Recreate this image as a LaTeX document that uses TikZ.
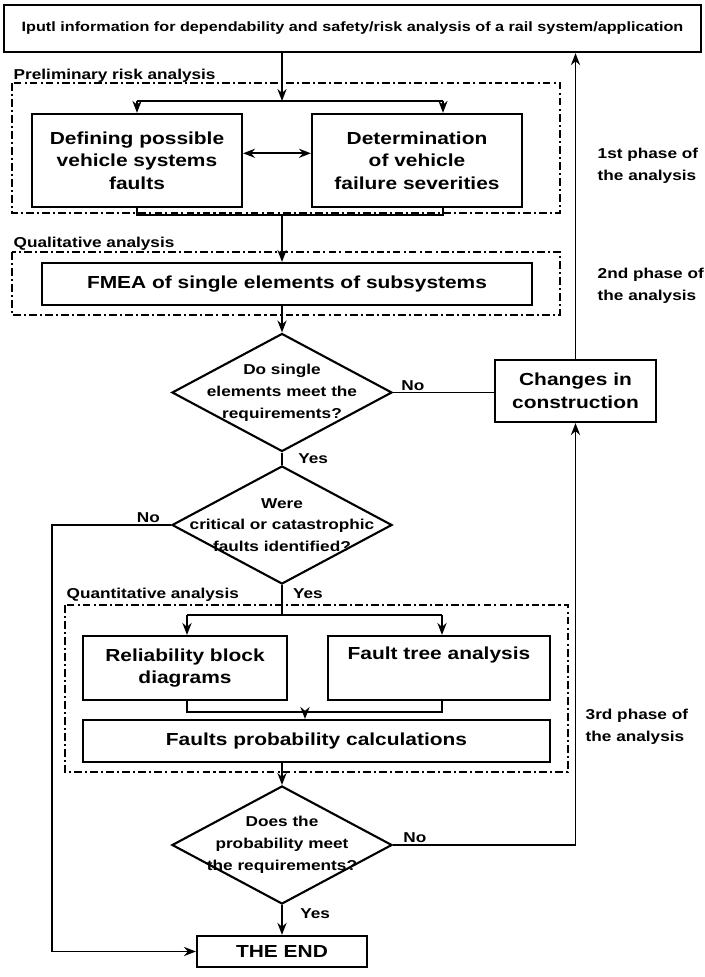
\documentclass[tikz,border=0pt]{standalone}
\usepackage{fontspec}
\setmainfont{Liberation Sans}[FakeStretch=1.2]
\usepackage{tikz}
\usetikzlibrary{
    positioning,
    arrows.meta,
    shapes.geometric
}
\newcommand{\boxfont}{\bfseries\fontsize{12.4}{16}\selectfont}
\newcommand{\lblfont}{\bfseries\fontsize{10.2}{15.5}\selectfont}
\newcommand{\topfont}{\bfseries\fontsize{9.6}{11}\selectfont}

\begin{document}
\begin{tikzpicture}[x=0.025cm, y=-0.025cm, >={Stealth[length=8.5pt, width=6.5pt]},
        box/.style={draw, line width=1.5pt, align=center, font=\boxfont, inner sep=0pt},
        decision/.style={draw, diamond, line width=1.5pt, minimum width=5.5cm, minimum height=2.95cm, inner sep=0pt},
        qtext/.style={align=center, font=\lblfont},
        frame/.style={line width=1.1pt, dash pattern=on 5.5pt off 2.2pt on 1.5pt off 2.2pt},
        lbl/.style={font=\lblfont, inner sep=1pt},
        flow/.style={line width=1.3pt}]
    \useasboundingbox (0,0) rectangle (704,977);

    % stage frames
    \draw[frame] (12,83) rectangle (560,213);
    \draw[frame] (12,252) rectangle (560,315);
    \draw[frame] (65,605) rectangle (568,772);
    \node[lbl, anchor=base west] (prelim) at (12,80) {Preliminary risk analysis};
    \node[lbl, anchor=base west] (qual) at (12,248) {Qualitative analysis};
    \node[lbl, anchor=base west] (quant) at (65,598) {Quantitative analysis};

    % boxes
    \node[box, font=\topfont, minimum width=17.43cm, minimum height=1.18cm] (input) at (352.5,28.5)
        {Iputl information for dependability and safety/risk analysis of a rail system/application};
    \node[box, minimum width=5.25cm, minimum height=2.33cm] (faults) at (137,160.5) {Defining possible\\vehicle systems\\faults};
    \node[box, minimum width=5.25cm, minimum height=2.33cm] (severity) at (417,160.5) {Determination\\of vehicle\\failure severities};
    \node[box, minimum width=12.25cm, minimum height=1.05cm] (fmea) at (287,284) {FMEA of single elements of subsystems};
    \node[box, minimum width=4.03cm, minimum height=1.55cm] (changes) at (575.5,391) {Changes in\\construction};
    \node[box, minimum width=5.1cm, minimum height=1.6cm] (rbd) at (185,668) {Reliability block\\diagrams};
    \node[box, minimum width=5.55cm, minimum height=1.6cm] (fta) at (439,668) {Fault tree analysis\\\strut};
    \node[box, minimum width=11.68cm, minimum height=1.05cm] (fpc) at (316.5,741) {Faults probability calculations};
    \node[box, minimum width=4.25cm, minimum height=0.78cm] (end) at (282,951.5) {THE END};

    % decisions
    \node[decision, label={[qtext]center:{Do single\\elements meet the\\requirements?}}] (q1) at (282,392.5) {};
    \node[decision, label={[qtext]center:{Were\\critical or catastrophic\\faults identified?}}] (q2) at (282,525) {};
    \node[decision, label={[qtext]center:{Does the\\probability meet\\the requirements?}}] (q3) at (282,845) {};

    % phases
    \node[lbl, anchor=west, align=left] (ph1) at (596,166) {1st phase of\\the analysis};
    \node[lbl, anchor=west, align=left] (ph2) at (596,286) {2nd phase of\\the analysis};
    \node[lbl, anchor=west, align=left] (ph3) at (584,727) {3rd phase of\\the analysis};

    % first phase
    \coordinate (s1) at (282,101);
    \coordinate (s1l) at (137,101);
    \coordinate (s1r) at (443,101);
    \coordinate (m1) at (282,215);
    \draw[flow, ->] (input.south -| s1) -- (s1);
    \draw[flow] (s1l) -- (s1r);
    \draw[flow, ->] (s1l) -- (faults.north);
    \draw[flow, ->] (s1r) -- (s1r |- severity.north);
    \draw[flow, <->] ([yshift=0.18cm]faults.east) -- ([yshift=0.18cm]severity.west);
    \draw[flow] (faults.south) -- (faults.south |- m1) -- (m1 -| s1r) -- (s1r |- severity.south);
    \draw[flow, ->] (m1) -- (m1 |- fmea.north);

    % second phase
    \draw[flow, ->] (fmea.south -| q1) -- (q1.north);
    \draw[flow] (q1.east) -- node[lbl, pos=0, anchor=south west, xshift=0.15cm] (no1) {No} (changes.west |- q1.east);
    \draw[flow, ->] (changes.north) -- (changes.north |- input.south);
    \draw[flow] (q1.south) -- node[lbl, right=0.35cm] (yes1) {Yes} (q2.north);
    \coordinate (nol) at (52,525);
    \draw[flow, ->] (q2.west) -- node[lbl, pos=0.19, above] (no2) {No} (nol) |- (end.west);

    % third phase
    \coordinate (s2) at (282,615);
    \coordinate (s2l) at (187,615);
    \coordinate (s2r) at (442,615);
    \coordinate (m2) at (305,712);
    \draw[flow] (q2.south) -- node[lbl, pos=0.3, right=0.22cm] (yes2) {Yes} (s2);
    \draw[flow] (s2l) -- (s2r);
    \draw[flow, ->] (s2l) -- (s2l |- rbd.north);
    \draw[flow, ->] (s2r) -- (s2r |- fta.north);
    \draw[flow] (rbd.south -| s2l) -- (s2l |- m2) -- (m2 -| s2r) -- (s2r |- fta.south);
    \draw[flow, ->] (m2) -- (m2 |- fpc.north);
    \draw[flow, ->] (fpc.south -| q3) -- (q3.north);
    \draw[flow, ->] (q3.east) -- node[lbl, pos=0, anchor=south west, xshift=0.2cm] (no3) {No} (q3.east -| changes.south) -- (changes.south);
    \draw[flow, ->] (q3.south) -- node[lbl, pos=0.3, right=0.4cm] (yes3) {Yes} (end.north);
\end{tikzpicture}
\end{document}
